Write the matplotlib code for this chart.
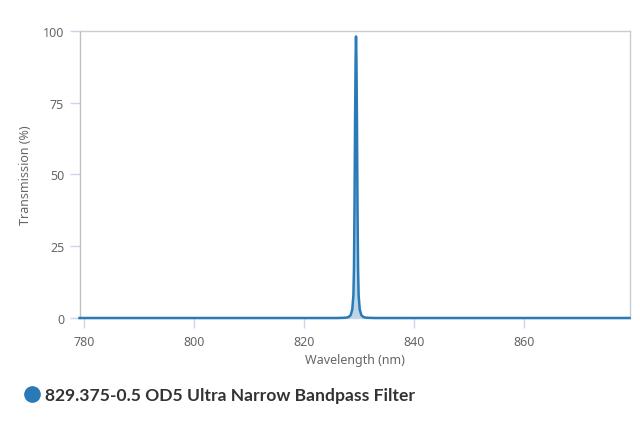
import matplotlib
matplotlib.use("Agg")
import matplotlib.pyplot as plt
from matplotlib.lines import Line2D

series_name = "829.375-0.5 OD5 Ultra Narrow Bandpass Filter"
wavelength = [779.1, 826.0, 827.5, 828.0, 828.4, 828.7, 828.9, 829.0, 829.1, 829.2,
              829.3, 829.375, 829.45, 829.55, 829.65, 829.75, 829.85, 830.05,
              830.35, 830.75, 831.25, 832.75, 879.1]
transmission = [0, 0, 0.1, 0.3, 1.0, 3, 8, 17, 38, 68,
                90, 98, 90, 68, 38, 17, 8, 3,
                1.0, 0.3, 0.1, 0, 0]
x_ticks = [780, 800, 820, 840, 860]
y_ticks = [0, 25, 50, 75, 100]

line_color = "#2a7ab8"
fill_color = "#a9cce3"
tick_color = "#ccd6eb"
label_color = "#666666"

fig = plt.figure(figsize=(6.4, 4.27), dpi=100)
ax = fig.add_axes([79.5 / 640, (427 - 319) / 427, 550 / 640, (319 - 31.7) / 427])

ax.fill_between(wavelength, transmission, 0, color=fill_color, alpha=0.8, linewidth=0)
ax.plot(wavelength, transmission, color=line_color, linewidth=1.8,
        solid_joinstyle="round", clip_on=False, zorder=5)

ax.set_xlim(779.1, 879.1)
ax.set_ylim(0, 100)
ax.set_xticks(x_ticks)
ax.set_yticks(y_ticks)

for s in ["top", "right"]:
    ax.spines[s].set_color("#cccccc")
    ax.spines[s].set_linewidth(1.0)
ax.spines["left"].set_color("#c0c0c0")
ax.spines["left"].set_linewidth(1.0)
ax.spines["bottom"].set_color(tick_color)
ax.spines["bottom"].set_linewidth(1.0)

ax.tick_params(axis="both", colors=tick_color, labelcolor=label_color,
               length=7, width=1, labelsize=9)
ax.tick_params(axis="y", pad=4)
ax.tick_params(axis="x", pad=5)

font = "Noto Sans"
for lab in ax.get_xticklabels() + ax.get_yticklabels():
    lab.set_fontfamily(font)

ax.set_xlabel("Wavelength (nm)", color=label_color, fontsize=9, fontfamily=font, labelpad=4)
ax.set_ylabel("Transmission (%)", color=label_color, fontsize=9, fontfamily=font, labelpad=8)

handle = Line2D([], [], marker="o", linestyle="none", markersize=11,
                markerfacecolor=line_color, markeredgecolor=line_color)
leg = fig.legend([handle], [series_name], loc="center left",
                 bbox_to_anchor=(6 / 640, 1 - 396 / 427), frameon=False,
                 handletextpad=0.15, handlelength=1.2,
                 prop={"family": "Lato", "weight": "bold", "size": 12.6})
for t in leg.get_texts():
    t.set_color("#333333")

fig.savefig("out.png", dpi=100)
